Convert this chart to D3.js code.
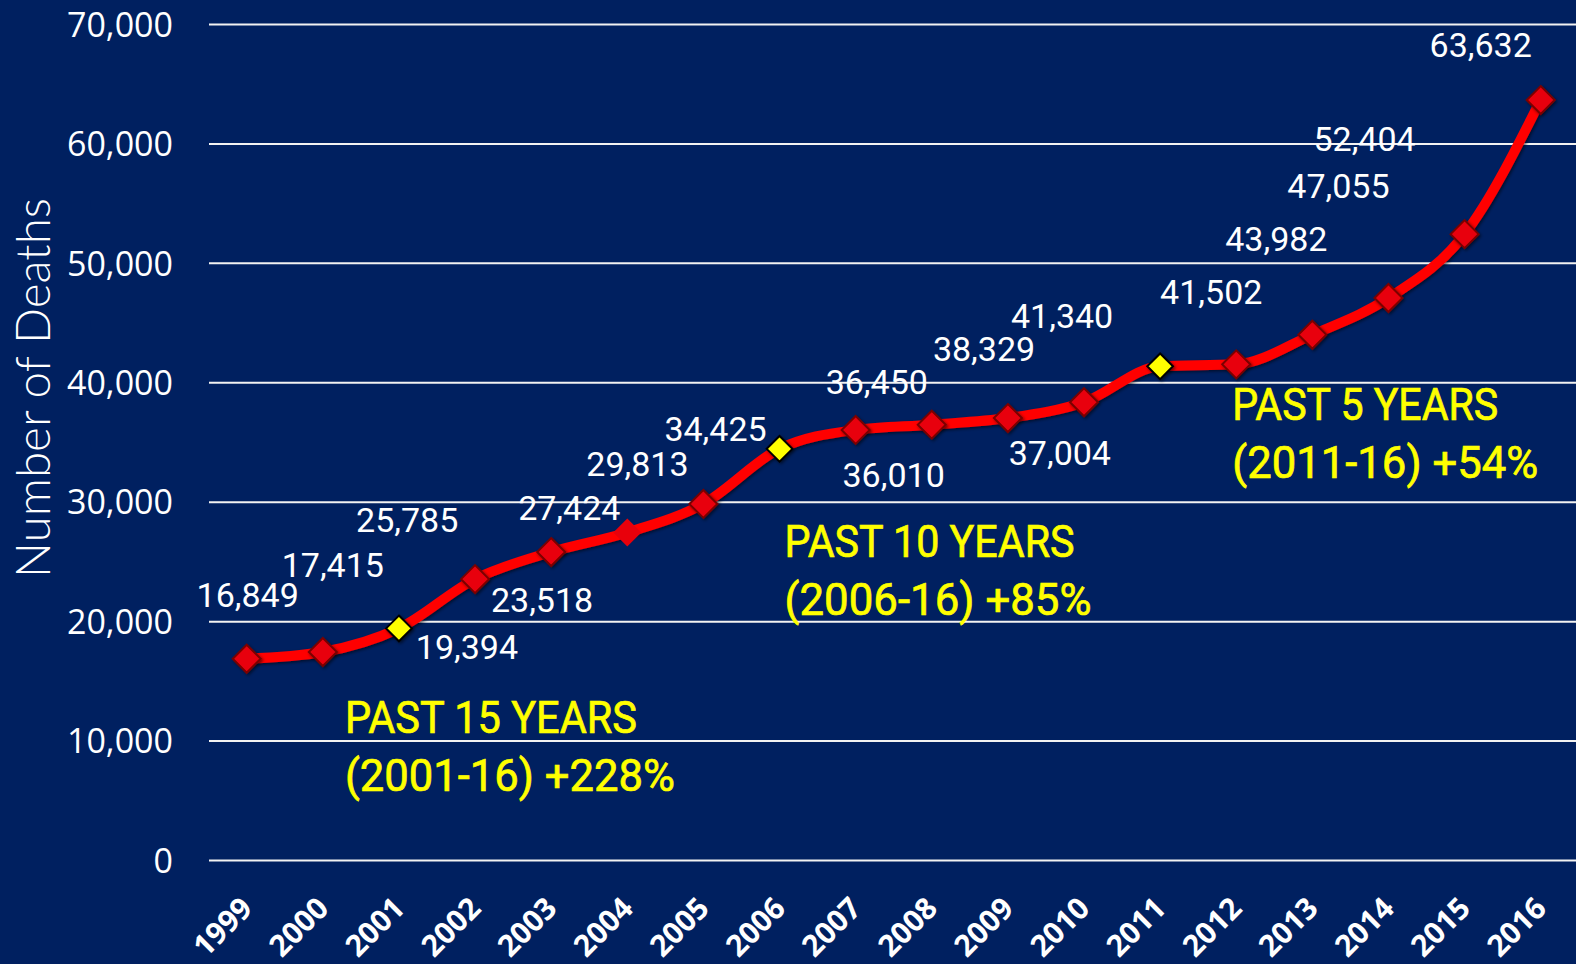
<!DOCTYPE html>
<html>
<head>
<meta charset="utf-8">
<script src="https://cdn.jsdelivr.net/npm/d3@7"></script>
<style>
  html, body { margin: 0; padding: 0; background: #002060; }
  svg { display: block; }
</style>
</head>
<body>
<svg width="1576" height="964"></svg>
<script>
// data
const years = ["1999","2000","2001","2002","2003","2004","2005","2006","2007","2008",
               "2009","2010","2011","2012","2013","2014","2015","2016"];
const deaths = [16849, 17415, 19394, 23518, 25785, 27424, 29813, 34425, 36010, 36450,
                37004, 38329, 41340, 41502, 43982, 47055, 52404, 63632];
const highlightYears = ["2001", "2006", "2011"];
const yTicks = [0, 10000, 20000, 30000, 40000, 50000, 60000, 70000];

// label placement (pixel offsets from each point, as hand-placed in the original)
const labelOffsets = [
  [1, -52], [10, -75], [68, 31], [67, 33], [-144, -20], [-58, -12],
  [-66, -28], [-64, -8], [38, 57], [-55, -31], [52, 47], [-100, -41],
  [-98, -38], [-25, -60], [-36, -84], [-50, -100], [-100, -83], [-60, -43]
];

// yellow callouts: anchored to a year tick + value for the first baseline
const notes = [
  { year: "2001", dx: -54, value: 10630, lines: ["PAST 15 YEARS", "(2001-16) +228%"], widths: [292, 330] },
  { year: "2006", dx: 5,   value: 25370, lines: ["PAST 10 YEARS", "(2006-16) +85%"], widths: [290, 307] },
  { year: "2012", dx: -4,  value: 36840, lines: ["PAST 5 YEARS", "(2011-16) +54%"], widths: [266, 306] }
];

const svg = d3.select("svg");
const width = +svg.attr("width");
const height = +svg.attr("height");
const left = 209;

const x = d3.scalePoint().domain(years).range([246.7, 1540.7]);
const y = d3.scaleLinear().domain([0, 70000]).range([860, 24]);

const defs = svg.append("defs");
const shadow = defs.append("filter").attr("id", "shadow")
  .attr("x", "-30%").attr("y", "-30%").attr("width", "160%").attr("height", "160%");
shadow.append("feDropShadow")
  .attr("dx", 1.5).attr("dy", 1.5).attr("stdDeviation", 1.5)
  .attr("flood-color", "#000").attr("flood-opacity", 0.55);

// background
svg.append("rect").attr("width", width).attr("height", height).attr("fill", "#002060");

// y axis + gridlines
const yAxis = svg.append("g")
  .attr("transform", `translate(${left},0)`)
  .call(d3.axisLeft(y).tickValues(yTicks).tickFormat(d3.format(","))
    .tickSize(-(width - left)).tickPadding(36));
yAxis.select(".domain").remove();
yAxis.selectAll(".tick line").attr("stroke", "#f2f2f2").attr("stroke-width", 2);
yAxis.selectAll(".tick text")
  .attr("fill", "#fff")
  .attr("font-family", "'Open Sans', sans-serif")
  .attr("font-size", 34)
  .attr("dy", "0.36em");

// y title
svg.append("text")
  .attr("transform", `translate(50,388) rotate(-90)`)
  .attr("text-anchor", "middle")
  .attr("fill", "#fff")
  .attr("font-family", "Lato, sans-serif")
  .attr("font-weight", 300)
  .attr("font-size", 48)
  .attr("textLength", 380)
  .attr("lengthAdjust", "spacingAndGlyphs")
  .text("Number of Deaths");

// x axis
const xAxis = svg.append("g")
  .attr("transform", `translate(0,${y(0)})`)
  .call(d3.axisBottom(x).tickSize(0).tickPadding(0));
xAxis.select(".domain").remove();
xAxis.selectAll(".tick text")
  .attr("fill", "#fff")
  .attr("font-family", "'Open Sans', sans-serif")
  .attr("font-weight", 700)
  .attr("font-size", 30)
  .attr("text-anchor", "end")
  .attr("dy", null)
  .attr("y", null)
  .attr("transform", "translate(7,50) rotate(-45)");

// line
const pts = years.map((yr, i) => ({ year: yr, value: deaths[i], i }));
const line = d3.line().x(d => x(d.year)).y(d => y(d.value)).curve(d3.curveMonotoneX);
svg.append("path")
  .datum(pts)
  .attr("d", line)
  .attr("fill", "none")
  .attr("stroke", "#ff0000")
  .attr("stroke-width", 10)
  .attr("stroke-linejoin", "round")
  .attr("filter", "url(#shadow)");

// markers
const diamond = d3.symbol().type(d3.symbolDiamond2);
svg.append("g").selectAll("path")
  .data(pts)
  .join("path")
  .attr("transform", d => `translate(${x(d.year)},${y(d.value)})`)
  .attr("d", d => highlightYears.includes(d.year) ? diamond.size(420)() : diamond.size(500)())
  .attr("fill", d => highlightYears.includes(d.year) ? "#ffff00" : "#e8000b")
  .attr("stroke", d => highlightYears.includes(d.year) ? "#000" : (d.year === "2004" ? "none" : "#7a0000"))
  .attr("stroke-width", 2)
  .attr("filter", d => d.year === "2004" ? null : "url(#shadow)");

// value labels
svg.append("g").selectAll("text")
  .data(pts)
  .join("text")
  .attr("x", d => x(d.year) + labelOffsets[d.i][0])
  .attr("y", d => y(d.value) + labelOffsets[d.i][1])
  .attr("text-anchor", "middle")
  .attr("fill", "#fff")
  .attr("font-family", "Roboto, sans-serif")
  .attr("font-size", 34)
  .text(d => d3.format(",")(d.value));

// callouts
notes.forEach(n => {
  const t = svg.append("text")
    .attr("fill", "#ffff00")
    .attr("stroke", "#ffff00")
    .attr("stroke-width", 0.7)
    .attr("font-family", "Roboto, sans-serif")
    .attr("font-size", 45);
  n.lines.forEach((s, k) => {
    t.append("tspan")
      .attr("x", x(n.year) + n.dx)
      .attr("y", y(n.value) + k * 58)
      .attr("textLength", n.widths[k])
      .attr("lengthAdjust", "spacingAndGlyphs")
      .text(s);
  });
});
</script>
</body>
</html>
